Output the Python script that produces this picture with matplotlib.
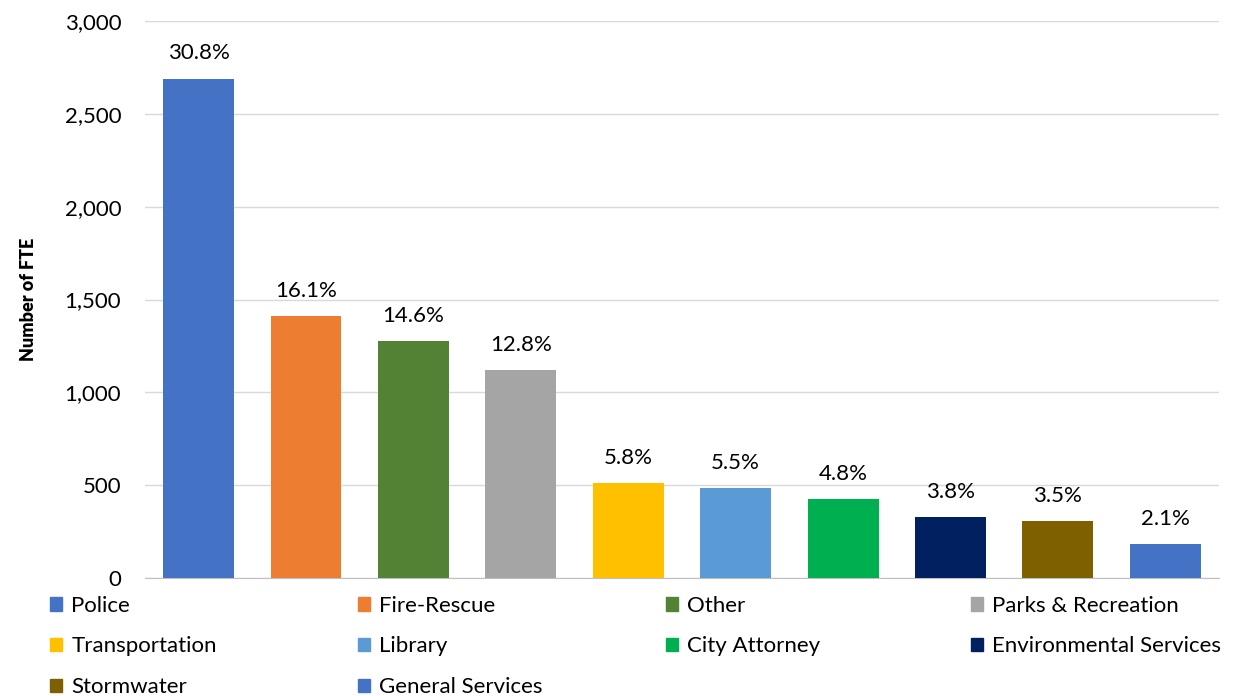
import numpy as np
import matplotlib.pyplot as plt
from matplotlib.patches import Patch

plt.rcParams['font.family'] = ['Lato', 'DejaVu Sans']

departments = ['Police', 'Fire-Rescue', 'Other', 'Parks & Recreation', 'Transportation',
               'Library', 'City Attorney', 'Environmental Services', 'Stormwater',
               'General Services']
fte = [2690, 1411, 1276, 1120, 512, 485, 425, 329, 307, 183]
pct_labels = ['30.8%', '16.1%', '14.6%', '12.8%', '5.8%', '5.5%', '4.8%', '3.8%', '3.5%', '2.1%']
colors = ['#4472C4', '#ED7D31', '#548235', '#A5A5A5', '#FFC000',
          '#5B9BD5', '#00B050', '#002060', '#7F6000', '#4472C4']

fig = plt.figure(figsize=(12.38, 6.96), dpi=100)
ax = fig.add_axes([0.117, 0.1695, 0.8677, 0.8003])

x = np.arange(len(departments))
bars = ax.bar(x, fte, width=0.66, color=colors, zorder=3)
for b, lab in zip(bars, pct_labels):
    ax.annotate(lab, (b.get_x() + b.get_width() / 2, b.get_height()),
                xytext=(0, 11), textcoords='offset points',
                ha='center', va='bottom', fontsize=16)

ax.set_xlim(-0.5, len(departments) - 0.5)
ax.set_ylim(0, 3000)
ax.set_yticks(np.arange(0, 3001, 500))
ax.set_yticklabels([f'{v:,}' for v in range(0, 3001, 500)], fontsize=16)
ax.set_xticks([])
ax.yaxis.grid(True, color='#D9D9D9', linewidth=1, zorder=0)
ax.tick_params(axis='y', length=0, pad=17)
for s in ['top', 'right', 'left']:
    ax.spines[s].set_visible(False)
ax.spines['bottom'].set_color('#BFBFBF')
ax.set_ylabel('Number of FTE', fontsize=13, fontweight='heavy', labelpad=20)

# legend laid out row-wise in 4 columns
col_x = [0.0404, 0.289, 0.538, 0.784]
for c in range(4):
    idx = list(range(c, len(departments), 4))
    handles = [Patch(color=colors[i]) for i in idx]
    fig.legend(handles, [departments[i] for i in idx], loc='upper left',
               bbox_to_anchor=(col_x[c], 0.144), frameon=False, fontsize=16,
               handlelength=0.55, handleheight=0.55, handletextpad=0.4,
               labelspacing=0.93, borderpad=0, borderaxespad=0)

fig.savefig('out.png', dpi=100)
